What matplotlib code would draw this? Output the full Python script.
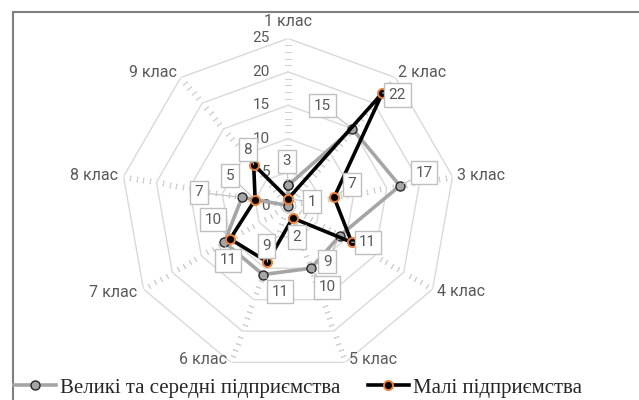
import numpy as np
import matplotlib
matplotlib.use('Agg')
import matplotlib.pyplot as plt
from matplotlib.patches import Rectangle

plt.rcParams['font.family'] = ['Roboto', 'DejaVu Sans']

categories = ['1 клас', '2 клас', '3 клас', '4 клас', '5 клас',
              '6 клас', '7 клас', '8 клас', '9 клас']
big_medium = [3, 15, 17, 9, 10, 11, 11, 7, 0]
small = [1, 22, 7, 11, 2, 9, 10, 5, 8]
radial_ticks = [0, 5, 10, 15, 20, 25]
series_names = ['Великі та середні підприємства', 'Малі підприємства']

# label offsets in pixels (dx, dy)
big_offsets = [(-1, 24), (-30, 23), (24, 13), (-13, -26), (16, -19),
               (17, -17), (4, -18), (-43, 5), None]
small_offsets = [(24, -3), (15, -2), (18, 13), (16, 0), (4, -19),
                 (-1, 16), (-17, 19), (-25, 24), (-6, 15)]
# category label offsets and alignment
cat_pos = [(0, 17, 'center'), (3, 5, 'left'), (5, 1, 'left'), (4, -3, 'left'),
           (4, 3, 'left'), (-4, 3, 'right'), (-6, -3, 'right'),
           (-6, 1, 'right'), (-4, 5, 'right')]

text_col = '#595959'
grid_col = '#D9D9D9'
grey = '#A5A5A5'
orange = '#ED7D31'

n = len(categories)
theta = np.arange(n) * 2 * np.pi / n
theta_closed = np.append(theta, theta[0])

fig = plt.figure(figsize=(6.39, 4.0), dpi=100)
ax = fig.add_axes([0.1894, 0.06875, 0.5227, 0.835], projection='polar')
ax.set_theta_offset(np.pi / 2)
ax.set_theta_direction(-1)
ax.set_ylim(0, 25)
ax.grid(False)
ax.set_xticks([])
ax.set_yticks([])
ax.spines['polar'].set_visible(False)
ax.patch.set_visible(False)

# polygon rings
for r in radial_ticks[1:]:
    ax.plot(theta_closed, [r] * (n + 1), color=grid_col, lw=1, zorder=1)

# little ticks along the spokes
minor = [v for v in range(1, 26) if v % 5 != 0]
for t in theta:
    ang = 90 - np.degrees(t)
    ax.plot([t] * len(minor), minor, ls='none', marker=(2, 2, ang),
            markersize=4, markeredgewidth=0.7, color='#D0D0D0', zorder=1)

for r in radial_ticks:
    ax.annotate(str(r), xy=(0, r), xytext=(-18, 0), textcoords='offset pixels',
                ha='right', va='center', fontsize=11, color=text_col)

for i, name in enumerate(categories):
    dx, dy, ha = cat_pos[i]
    ax.annotate(name, xy=(theta[i], 25), xytext=(dx, dy), textcoords='offset pixels',
                ha=ha, va='center', fontsize=11.5, color=text_col, annotation_clip=False)

l1, = ax.plot(theta_closed, big_medium + big_medium[:1], color=grey, lw=2.6,
              marker='o', markersize=6.5, markerfacecolor=grey,
              markeredgecolor='#262626', markeredgewidth=1, zorder=3)
l2, = ax.plot(theta_closed, small + small[:1], color='black', lw=2.6,
              marker='o', markersize=6.5, markerfacecolor='black',
              markeredgecolor=orange, markeredgewidth=1.4, zorder=4)


def add_labels(values, offsets):
    for i, v in enumerate(values):
        if offsets[i] is None:
            continue
        ax.annotate(str(v), xy=(theta[i], v), xytext=offsets[i],
                    textcoords='offset pixels', ha='center', va='center',
                    fontsize=11, color=text_col, zorder=6,
                    bbox=dict(boxstyle='square,pad=0.3', fc='white',
                              ec='#BFBFBF', lw=1),
                    arrowprops=dict(arrowstyle='-', color='#BFBFBF', lw=0.8,
                                    shrinkA=0, shrinkB=3))


add_labels(big_medium, big_offsets)
add_labels(small, small_offsets)

# outer chart border
fig.patches.append(Rectangle((13 / 639, -0.1), 1.0, (400 - 12) / 400 + 0.1,
                             transform=fig.transFigure, fill=False,
                             ec='#7F7F7F', lw=1.5, clip_on=False))

fig.legend([l1, l2], series_names, loc='lower left', ncol=2,
           bbox_to_anchor=(0.006, -0.02), frameon=False, borderpad=0,
           prop={'family': 'Liberation Serif', 'size': 15},
           handlelength=2.0, handletextpad=0.2, columnspacing=1.3,
           labelcolor='#262626')

fig.savefig('out.png', dpi=100)
